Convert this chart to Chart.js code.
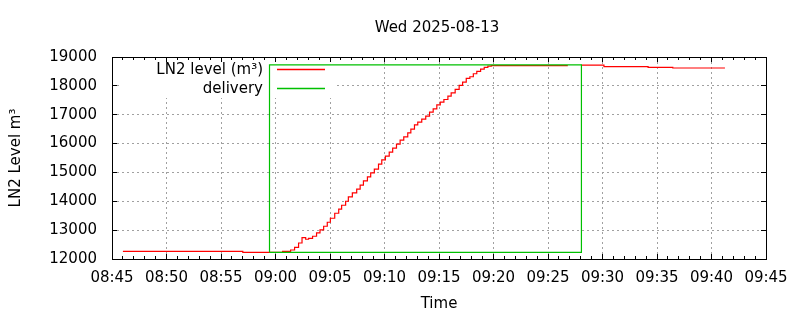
<!DOCTYPE html>
<html>
<head>
<meta charset="utf-8">
<title>LN2 level</title>
<script src="https://cdn.jsdelivr.net/npm/chart.js@4"></script>
<style>
  html, body { margin: 0; padding: 0; background: #fff; }
</style>
</head>
<body>
<canvas id="myChart" width="800" height="320"></canvas>
<script>
// LN2 tank level and delivery window, gnuplot-like look

const chartTitle = 'Wed 2025-08-13';
const xTitle = 'Time';
const yTitle = 'LN2 Level m³';
const levelLabel = 'LN2 level (m³)';
const deliveryLabel = 'delivery';

const xStart = '08:45';   // axis range
const xEnd = '09:45';
const yMin = 12000;
const yMax = 19000;

// level readings (null = no data)
const levelTimes = [
  '08:46:00', '08:57:00', '09:00:39', '09:01:23', '09:01:45', '09:02:07', '09:02:26', '09:02:46',
  '09:03:02', '09:03:24', '09:03:46', '09:04:05', '09:04:25', '09:04:45', '09:05:02', '09:05:26',
  '09:05:48', '09:06:04', '09:06:26', '09:06:41', '09:07:03', '09:07:27', '09:07:46', '09:08:04',
  '09:08:26', '09:08:44', '09:09:04', '09:09:27', '09:09:45', '09:10:05', '09:10:26', '09:10:45',
  '09:11:06', '09:11:26', '09:11:46', '09:12:08', '09:12:25', '09:12:45', '09:13:03', '09:13:25',
  '09:13:47', '09:14:08', '09:14:28', '09:14:48', '09:15:07', '09:15:27', '09:15:49', '09:16:07',
  '09:16:29', '09:16:51', '09:17:10', '09:17:30', '09:17:50', '09:18:09', '09:18:28', '09:18:49',
  '09:19:09', '09:19:29', '09:19:48', '09:26:49', '09:27:30', '09:28:04', '09:30:08', '09:34:11',
  '09:36:27', '09:41:14'
];
const levelValues = [
  12265, 12232, 12267, 12312, 12406, 12555, 12739, 12684,
  12718, 12788, 12902, 13006, 13135, 13273, 13412, 13586,
  13725, 13863, 14002, 14151, 14290, 14419, 14557, 14707,
  14845, 14984, 15113, 15286, 15435, 15564, 15702, 15841,
  15980, 16119, 16233, 16372, 16501, 16650, 16743, 16848,
  16952, 17090, 17205, 17344, 17437, 17528, 17646, 17760,
  17875, 18014, 18131, 18256, 18315, 18420, 18499, 18582,
  18638, 18687, 18700, 18700, null, 18720, 18668, 18639,
  18618, 18618
];

// delivery marker
const deliveryTimes = ['08:59:27', '08:59:27', '09:28:04', '09:28:04', '08:59:27'];
const deliveryValues = [12232, 18725, 18725, 12232, 12232];

const fontFamily = '"DejaVu Sans", sans-serif';
const fontSize = 15;

function toSec(s) {
  const p = s.split(':').map(Number);
  return p[0] * 3600 + p[1] * 60 + (p[2] || 0);
}
function hhmm(sec) {
  const h = Math.floor(sec / 3600);
  const m = Math.round((sec % 3600) / 60);
  return String(h).padStart(2, '0') + ':' + String(m).padStart(2, '0');
}

const xMin = toSec(xStart);
const xMax = toSec(xEnd);

const levelData = levelTimes.map((t, i) => ({ x: toSec(t), y: levelValues[i] }));
const deliveryData = deliveryTimes.map((t, i) => ({ x: toSec(t), y: deliveryValues[i] }));

// title drawn over the plot centre (gnuplot centres on the plot, not the canvas)
const topTitle = {
  id: 'topTitle',
  afterDraw(chart) {
    const ctx = chart.ctx, a = chart.chartArea;
    ctx.save();
    ctx.font = fontSize + 'px ' + fontFamily;
    ctx.fillStyle = '#000';
    ctx.textAlign = 'center';
    ctx.textBaseline = 'alphabetic';
    ctx.fillText(chartTitle, (a.left + a.right) / 2 - 2, 32);
    ctx.restore();
  }
};

// opaque key box in the top left corner
const keyBox = {
  id: 'keyBox',
  beforeDatasetsDraw(chart) {
    const ctx = chart.ctx, a = chart.chartArea;
    ctx.save();
    ctx.fillStyle = '#fff';
    ctx.fillRect(a.left + 10, a.top + 1, 213, 40);
    ctx.font = fontSize + 'px ' + fontFamily;
    ctx.textAlign = 'right';
    ctx.textBaseline = 'alphabetic';
    chart.data.datasets.forEach((ds, i) => {
      const y = a.top + 17 + i * 19;
      ctx.fillStyle = '#000';
      ctx.fillText(ds.label, a.left + 151, y);
      ctx.strokeStyle = ds.borderColor;
      ctx.lineWidth = 1.3;
      ctx.beginPath();
      ctx.moveTo(a.left + 165, y - 4.5);
      ctx.lineTo(a.left + 213, y - 4.5);
      ctx.stroke();
    });
    ctx.restore();
  }
};

// border with inward ticks on all four sides
const frame = {
  id: 'frame',
  afterDatasetsDraw(chart) {
    const ctx = chart.ctx, a = chart.chartArea;
    const xs = chart.scales.x, ys = chart.scales.y;
    ctx.save();
    ctx.strokeStyle = '#000';
    ctx.lineWidth = 1;
    ctx.beginPath();
    for (let t = xMin; t <= xMax; t += 60) {
      const px = Math.floor(xs.getPixelForValue(t)) + 0.5;
      const len = (t - xMin) % 300 === 0 ? 5 : 3;
      ctx.moveTo(px, a.bottom); ctx.lineTo(px, a.bottom - len);
      ctx.moveTo(px, a.top); ctx.lineTo(px, a.top + len);
    }
    ys.ticks.forEach(tk => {
      const py = Math.floor(ys.getPixelForValue(tk.value)) + 0.5;
      ctx.moveTo(a.left, py); ctx.lineTo(a.left + 5, py);
      ctx.moveTo(a.right, py); ctx.lineTo(a.right - 5, py);
    });
    ctx.stroke();
    ctx.strokeRect(a.left + 0.5, a.top + 0.5, a.right - a.left, a.bottom - a.top);
    ctx.restore();
  }
};

const ctx = document.getElementById('myChart');
const myChart = new Chart(ctx, {
  type: 'line',
  data: {
    datasets: [
      {
        label: levelLabel,
        data: levelData,
        borderColor: '#ff0000',
        borderWidth: 1.2,
        stepped: true,
        spanGaps: false,
        pointRadius: 0,
        order: 1
      },
      {
        label: deliveryLabel,
        data: deliveryData,
        borderColor: '#00c000',
        borderWidth: 1.2,
        pointRadius: 0,
        order: 0
      }
    ]
  },
  options: {
    responsive: false,
    animation: false,
    layout: { padding: { left: 0, right: 34, top: 57, bottom: 0 } },
    scales: {
      x: {
        type: 'linear',
        min: xMin,
        max: xMax,
        afterFit: s => { s.height = 61; },
        ticks: {
          stepSize: 300,
          autoSkip: false,
          maxRotation: 0,
          padding: 10,
          color: '#000',
          font: { family: fontFamily, size: fontSize },
          callback: v => hhmm(v)
        },
        grid: { color: '#a0a0a0', lineWidth: 1, drawTicks: false },
        border: { display: false, dash: [2, 3] },
        title: {
          display: true,
          text: xTitle,
          color: '#000',
          font: { family: fontFamily, size: fontSize },
          padding: { top: 0, bottom: 7 }
        }
      },
      y: {
        min: yMin,
        max: yMax,
        afterFit: s => { s.width = 112; },
        ticks: {
          stepSize: 1000,
          padding: 15,
          color: '#000',
          font: { family: fontFamily, size: fontSize },
          callback: v => String(v)
        },
        grid: { color: '#a0a0a0', lineWidth: 1, drawTicks: false },
        border: { display: false, dash: [2, 3] },
        title: {
          display: true,
          text: yTitle,
          color: '#000',
          font: { family: fontFamily, size: fontSize },
          padding: { top: 7, bottom: 0 }
        }
      }
    },
    plugins: {
      legend: { display: false },
      title: { display: false },
      tooltip: { enabled: false }
    }
  },
  plugins: [keyBox, frame, topTitle]
});
</script>
</body>
</html>
